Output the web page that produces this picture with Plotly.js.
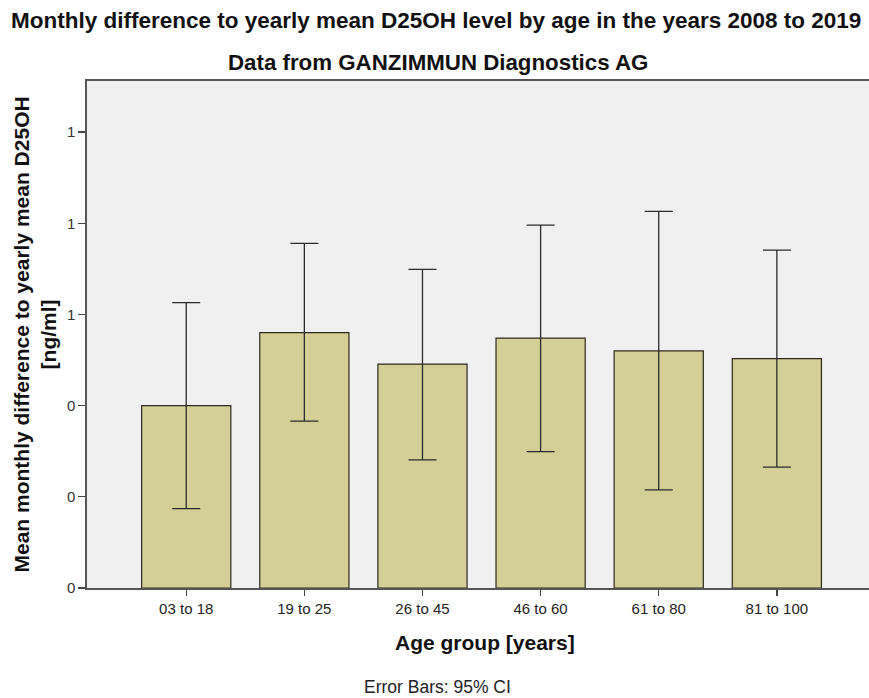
<!DOCTYPE html>
<html>
<head>
<meta charset="utf-8">
<script src="https://cdn.plot.ly/plotly-3.0.1.min.js"></script>
<style>html,body{margin:0;padding:0;background:#fff;}#chart{width:869px;height:698px;}</style>
</head>
<body>
<div id="chart"></div>
<script>
const categories = ["03 to 18", "19 to 25", "26 to 45", "46 to 60", "61 to 80", "81 to 100"];
const means = [0.400, 0.560, 0.491, 0.548, 0.520, 0.503];
const ciUpper = [0.626, 0.756, 0.699, 0.796, 0.826, 0.741];
const ciLower = [0.174, 0.366, 0.281, 0.299, 0.215, 0.265];
const yTickVals = [0, 0.2, 0.4, 0.6, 0.8, 1.0];
const yTickText = yTickVals.map(v => String(Math.round(v)));

const F = '"Liberation Sans", Arial, sans-serif';

const trace = {
  type: 'bar',
  x: categories.map((c, i) => i),
  y: means,
  marker: { color: '#d3cf97', line: { color: '#2e2a1e', width: 1.2 } },
  width: 0.755,
  error_y: {
    type: 'data',
    symmetric: false,
    array: means.map((m, i) => ciUpper[i] - m),
    arrayminus: means.map((m, i) => m - ciLower[i]),
    color: '#2b2b2b',
    thickness: 1.3,
    width: 14
  },
  hoverinfo: 'skip'
};

const layout = {
  width: 869, height: 698,
  margin: { l: 87, r: 0, t: 81, b: 110, pad: 0 },
  paper_bgcolor: '#ffffff',
  plot_bgcolor: '#f0f0f0',
  showlegend: false,
  font: { family: F, color: '#222' },
  xaxis: {
    range: [-0.84, 5.78],
    tickmode: 'array',
    tickvals: categories.map((c, i) => i),
    ticktext: categories,
    ticks: 'outside', ticklen: 6, tickwidth: 1.3, tickcolor: '#444',
    showline: true, linecolor: '#555', linewidth: 1.6, mirror: true,
    showgrid: false, zeroline: false,
    tickfont: { family: F, size: 15, color: '#222' }
  },
  yaxis: {
    range: [0, 1.112],
    tickmode: 'array',
    tickvals: yTickVals,
    ticktext: yTickText,
    ticks: 'outside', ticklen: 7, tickwidth: 1.3, tickcolor: '#444',
    showline: true, linecolor: '#555', linewidth: 1.6,
    showgrid: false, zeroline: false,
    tickfont: { family: F, size: 15, color: '#333' }
  },
  annotations: [
    { text: '<b>Monthly difference to yearly mean D25OH level by age in the years 2008 to 2019</b>',
      xref: 'paper', yref: 'paper', x: 0.446, y: 1, yshift: 61, xanchor: 'center', yanchor: 'middle',
      showarrow: false, font: { family: F, size: 22.5, color: '#111' } },
    { text: '<b>Data from GANZIMMUN Diagnostics AG</b>',
      xref: 'paper', yref: 'paper', x: 0.449, y: 1, yshift: 19, xanchor: 'center', yanchor: 'middle',
      showarrow: false, font: { family: F, size: 22.3, color: '#111' } },
    { text: '<b>Mean monthly difference to yearly mean D25OH<br>[ng/ml]</b>',
      xref: 'paper', yref: 'paper', x: 0, xshift: -53, y: 0.5, textangle: -90,
      xanchor: 'center', yanchor: 'middle', align: 'center',
      showarrow: false, font: { family: F, size: 21, color: '#111' } },
    { text: '<b>Age group [years]</b>',
      xref: 'paper', yref: 'paper', x: 0.509, y: 0, yshift: -54, xanchor: 'center', yanchor: 'middle',
      showarrow: false, font: { family: F, size: 21, color: '#111' } },
    { text: 'Error Bars: 95% CI',
      xref: 'paper', yref: 'paper', x: 0.448, y: 0, yshift: -99, xanchor: 'center', yanchor: 'middle',
      showarrow: false, font: { family: F, size: 17.5, color: '#222' } }
  ]
};

Plotly.newPlot('chart', [trace], layout, { displayModeBar: false, staticPlot: true });
</script>
</body>
</html>
